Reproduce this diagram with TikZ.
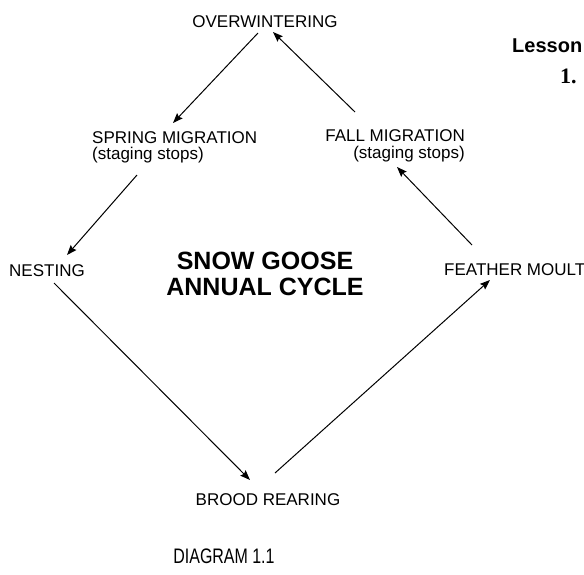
\documentclass[tikz,border=0pt]{standalone}
\usepackage{fontspec}
\setmainfont{Liberation Sans}
\newfontfamily\lessonserif{Liberation Serif}
\usepackage{graphicx}
\usepackage{tikz}
\usetikzlibrary{arrows.meta,calc}

\begin{document}
\begin{tikzpicture}[x=1pt,y=-1pt,
    stage/.style={inner sep=0pt,font=\fontsize{17}{20}\selectfont},
    headline/.style={inner sep=0pt,font=\fontsize{25}{26}\bfseries},
    cyc/.style={line width=1pt,-{Stealth[length=10pt,width=7.5pt,inset=1.5pt]}}]
    \useasboundingbox (0,0) rectangle (584,574);
    \node[stage,anchor=base] (ow) at (265,27) {OVERWINTERING};
    \node[stage,anchor=base west] (spring) at (92,143) {SPRING MIGRATION};
    \node[stage,anchor=base west] (springsub) at (92,159) {(staging stops)};
    \node[stage,anchor=base east] (fall) at (465,141) {FALL MIGRATION};
    \node[stage,anchor=base east] (fallsub) at (465,158) {(staging stops)};
    \node[stage,anchor=base west] (nest) at (9,276) {NESTING};
    \node[stage,anchor=base west] (feather) at (444,275) {FEATHER MOULT};
    \node[stage,anchor=base] (brood) at (268,505) {BROOD REARING};
    \node[headline,anchor=base] (title1) at (265,269) {SNOW GOOSE};
    \node[headline,anchor=base] (title2) at (265,295) {ANNUAL CYCLE};
    \node[inner sep=0pt,anchor=base,font=\fontsize{21}{24}\selectfont] (caption) at (224,563) {\scalebox{0.76}[1]{DIAGRAM 1.1}};
    \node[inner sep=0pt,anchor=base west,font=\fontsize{20}{22}\bfseries] (lesson) at (512,52) {Lesson};
    \node[inner sep=0pt,anchor=base west,font=\fontsize{22}{24}\lessonserif\bfseries] (one) at (560,83) {1.};

    \draw[cyc] ($(ow.base)+(-7,6)$) -- ($(spring.base west)+(81,-20)$);
    \draw[cyc] ($(springsub.base west)+(45,16)$) -- ($(nest.base west)+(58,-21)$);
    \draw[cyc] ($(nest.base west)+(45,7)$) -- ($(brood.base)+(-18,-25)$);
    \draw[cyc] ($(brood.base)+(7,-32)$) -- ($(feather.base west)+(46,5)$);
    \draw[cyc] ($(feather.base west)+(28,-30)$) -- ($(fallsub.base east)+(-68,9)$);
    \draw[cyc] ($(fall.base east)+(-110,-29)$) -- ($(ow.base)+(8,5)$);
\end{tikzpicture}
\end{document}
